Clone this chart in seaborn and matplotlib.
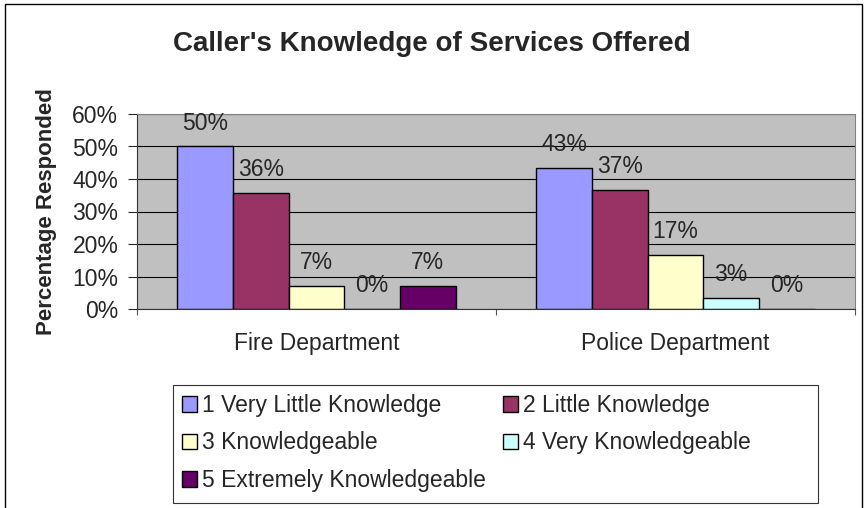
import numpy as np
import pandas as pd
import seaborn as sns
import matplotlib.pyplot as plt
from matplotlib.patches import Rectangle
from matplotlib.ticker import FuncFormatter, FixedLocator

# Survey results (percent of callers)
departments = ['Fire Department', 'Police Department']
levels = ['1 Very Little Knowledge', '2 Little Knowledge', '3 Knowledgeable',
          '4 Very Knowledgeable', '5 Extremely Knowledgeable']
fire = [50.0, 35.7, 7.1, 0.0, 7.1]
police = [43.3, 36.7, 16.7, 3.3, 0.0]
colors = ['#9999FF', '#993366', '#FFFFCC', '#CCFFFF', '#660066']

df = pd.DataFrame({
    'Department': np.repeat(departments, len(levels)),
    'Knowledge': levels * len(departments),
    'Percent': fire + police,
})

sns.set_style('white')
plt.rcParams['font.family'] = ['Liberation Sans', 'DejaVu Sans']
fs = 16.5

fig = plt.figure(figsize=(8.64, 5.08), dpi=100)
ax = fig.add_axes([137 / 864, 1 - 309 / 508, (855 - 137) / 864, (309 - 114) / 508])

sns.barplot(data=df, x='Department', y='Percent', hue='Knowledge',
            palette=colors, saturation=1, width=0.775, edgecolor='black',
            linewidth=1, ax=ax)
handles, labels = ax.get_legend_handles_labels()
ax.legend_.remove()

# value labels above each bar
for cont in ax.containers:
    vals = [b.get_height() for b in cont]
    ax.bar_label(cont, labels=[f'{round(v)}%' for v in vals], padding=8.5, fontsize=fs)

ax.set_facecolor('#C0C0C0')
ax.set_ylim(0, 60)
ax.set_xlim(-0.5, 1.5)
ax.set_yticks(range(0, 61, 10))
ax.yaxis.set_major_formatter(FuncFormatter(lambda v, p: f'{int(v)}%'))
ax.grid(axis='y', color='black', linewidth=0.8)
ax.set_axisbelow(True)
ax.tick_params(axis='y', left=True, length=6.5, width=0.8, labelsize=fs, pad=7)
ax.tick_params(axis='x', bottom=False, labelsize=fs, pad=13)
ax.xaxis.set_minor_locator(FixedLocator([-0.5, 0.5, 1.5]))
ax.tick_params(axis='x', which='minor', bottom=True, length=4, width=0.8, color='#555555')
ax.set_xlabel('')
ax.set_ylabel('Percentage Responded', fontsize=16, fontweight='bold')
ax.yaxis.set_label_coords(57 / 864, 1 - 211.5 / 508, transform=fig.transFigure)
for side in ['top', 'right']:
    ax.spines[side].set_color('#808080')
for side in ['left', 'bottom']:
    ax.spines[side].set_color('#333333')
for s in ax.spines.values():
    s.set_linewidth(0.8)

fig.suptitle("Caller's Knowledge of Services Offered", fontsize=20,
             fontweight='bold', y=1 - 44 / 508, va='center')

# legend box below the plot
fig.patches.append(Rectangle((173 / 864, 1 - 503 / 508), (818 - 173) / 864, (503 - 385) / 508,
                             transform=fig.transFigure, fill=False,
                             edgecolor='#333333', linewidth=0.8))
order = [0, 2, 4, 1, 3]
fig.legend([handles[i] for i in order], [labels[i] for i in order], ncol=2,
           loc='upper left', bbox_to_anchor=(182 / 864, 1 - 394 / 508), frameon=False,
           fontsize=fs, handlelength=0.66, handleheight=0.66,
           handletextpad=0.22, labelspacing=0.63, columnspacing=0.74,
           borderaxespad=0, borderpad=0)

# outer chart border
fig.patches.append(Rectangle((4.5 / 864, -0.05), (862 - 4.5) / 864, 1.05 - 4 / 508,
                             transform=fig.transFigure, fill=False,
                             edgecolor='black', linewidth=1))

fig.savefig('out.png', dpi=100)
